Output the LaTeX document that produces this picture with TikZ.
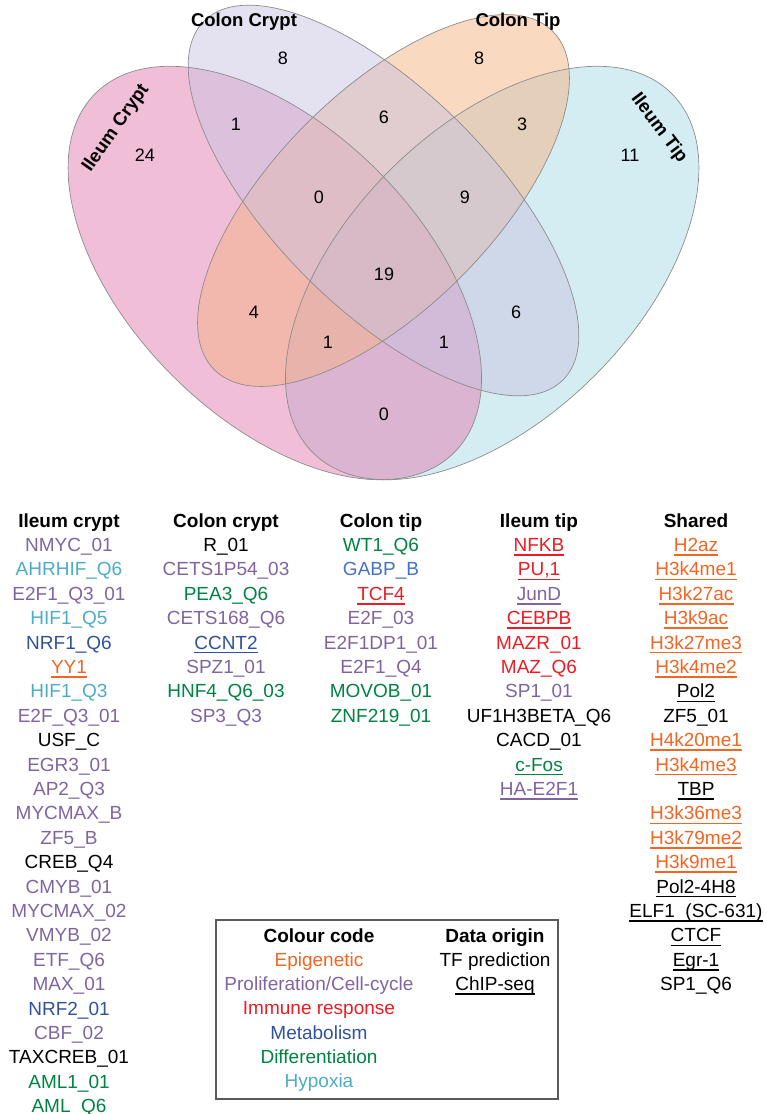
\documentclass[tikz,border=0pt]{standalone}
\usepackage{fontspec}
\setmainfont{Liberation Sans}
\definecolor{epicol}{RGB}{242,101,34}
\definecolor{procol}{RGB}{128,100,162}
\definecolor{immcol}{RGB}{237,28,36}
\definecolor{metcol}{RGB}{46,82,160}
\definecolor{metlcol}{RGB}{68,114,196}
\definecolor{difcol}{RGB}{0,130,65}
\definecolor{hypcol}{RGB}{75,172,198}
\definecolor{pinkset}{RGB}{227,125,177}
\definecolor{cyanset}{RGB}{169,219,229}
\definecolor{orangeset}{RGB}{245,179,131}
\definecolor{lavset}{RGB}{201,195,225}
\newsavebox\tfbox
\newcommand\tfu[1]{\sbox\tfbox{#1}\rlap{\rule[-4.3pt]{\wd\tfbox}{1.6pt}}\usebox\tfbox}
\begin{document}
\begin{tikzpicture}[x=1pt, y=-1pt,
  set/.style={fill opacity=0.5},
  rim/.style={draw=black!45, line width=0.7pt},
  num/.style={font=\fontsize{18}{20}\selectfont},
  setname/.style={font=\fontsize{18.5}{20}\selectfont\bfseries},
  tf/.style={anchor=base, inner sep=0pt, font=\fontsize{19}{23}\selectfont},
  head/.style={tf, font=\fontsize{19}{23}\selectfont\bfseries},
  blk/.style={tf}, epi/.style={tf, text=epicol}, pro/.style={tf, text=procol},
  imm/.style={tf, text=immcol}, met/.style={tf, text=metcol}, metl/.style={tf, text=metlcol},
  dif/.style={tf, text=difcol}, hyp/.style={tf, text=hypcol}]
  \useasboundingbox (0,0) rectangle (767,1114);
  \coordinate (ileumcrypt) at (274.8,273);
  \coordinate (ileumtip) at (492.2,273);
  \coordinate (colon) at (383.5,200.5);
  \fill[cyanset, set] (ileumtip) circle [x radius=253.8pt, y radius=145pt, rotate=45];
  \fill[pinkset, set] (ileumcrypt) circle [x radius=253.8pt, y radius=145pt, rotate=-45];
  \fill[orangeset, set] (colon) circle [x radius=239.3pt, y radius=108.8pt, rotate=45];
  \fill[lavset, set] (colon) circle [x radius=253.8pt, y radius=108.8pt, rotate=-45];
  \draw[rim] (ileumtip) circle [x radius=253.8pt, y radius=145pt, rotate=45];
  \draw[rim] (ileumcrypt) circle [x radius=253.8pt, y radius=145pt, rotate=-45];
  \draw[rim] (colon) circle [x radius=239.3pt, y radius=108.8pt, rotate=45];
  \draw[rim] (colon) circle [x radius=253.8pt, y radius=108.8pt, rotate=-45];
  \node[setname, rotate=55] (lic) at (116,128) {Ileum Crypt};
  \node[setname] (lcc) at (244,22) {Colon Crypt};
  \node[setname] (lct) at (518,22) {Colon Tip};
  \node[setname, rotate=-53] (lit) at (659,128) {Ileum Tip};
  \node[num] (n1) at (145,155) {24};
  \node[num] (n2) at (283,58) {8};
  \node[num] (n3) at (479,58) {8};
  \node[num] (n4) at (630,155) {11};
  \node[num] (n5) at (236,124) {1};
  \node[num] (n6) at (384,117) {6};
  \node[num] (n7) at (522,124) {3};
  \node[num] (n8) at (319,197) {0};
  \node[num] (n9) at (465,197) {9};
  \node[num] (n10) at (384,274) {19};
  \node[num] (n11) at (254,312) {4};
  \node[num] (n12) at (516,312) {6};
  \node[num] (n13) at (328,342) {1};
  \node[num] (n14) at (444,342) {1};
  \node[num] (n15) at (384,414) {0};
  \node[head] (ich) at (69,527) {Ileum crypt};
  \foreach \c/\t [count=\i] in {pro/NMYC\_01, hyp/AHRHIF\_Q6, pro/E2F1\_Q3\_01, hyp/HIF1\_Q5,
    met/NRF1\_Q6, epi/\tfu{YY1}, hyp/HIF1\_Q3, pro/E2F\_Q3\_01, blk/USF\_C, pro/EGR3\_01,
    pro/AP2\_Q3, pro/MYCMAX\_B, pro/ZF5\_B, blk/CREB\_Q4, pro/CMYB\_01, pro/MYCMAX\_02,
    pro/VMYB\_02, pro/ETF\_Q6, pro/MAX\_01, met/NRF2\_01, pro/CBF\_02, blk/TAXCREB\_01,
    dif/AML1\_01, dif/AML\_Q6}
    \node[\c] (ic\i) at (69,527+24.4*\i) {\t};
  \node[head] (cch) at (226,527) {Colon crypt};
  \foreach \c/\t [count=\i] in {blk/R\_01, pro/CETS1P54\_03, dif/PEA3\_Q6, pro/CETS168\_Q6,
    met/\tfu{CCNT2}, pro/SPZ1\_01, dif/HNF4\_Q6\_03, pro/SP3\_Q3}
    \node[\c] (cc\i) at (226,527+24.4*\i) {\t};
  \node[head] (cth) at (381,527) {Colon tip};
  \foreach \c/\t [count=\i] in {dif/WT1\_Q6, metl/GABP\_B, imm/\tfu{TCF4}, pro/E2F\_03,
    pro/E2F1DP1\_01, pro/E2F1\_Q4, dif/MOVOB\_01, dif/ZNF219\_01}
    \node[\c] (ct\i) at (381,527+24.4*\i) {\t};
  \node[head] (ith) at (539,527) {Ileum tip};
  \foreach \c/\t [count=\i] in {imm/\tfu{NFKB}, imm/\tfu{PU,1}, pro/\tfu{JunD}, imm/\tfu{CEBPB},
    imm/MAZR\_01, imm/MAZ\_Q6, pro/SP1\_01, blk/UF1H3BETA\_Q6, blk/CACD\_01,
    dif/\tfu{c-Fos}, pro/\tfu{HA-E2F1}}
    \node[\c] (it\i) at (539,527+24.4*\i) {\t};
  \node[head] (shh) at (696,527) {Shared};
  \foreach \c/\t [count=\i] in {epi/\tfu{H2az}, epi/\tfu{H3k4me1}, epi/\tfu{H3k27ac},
    epi/\tfu{H3k9ac}, epi/\tfu{H3k27me3}, epi/\tfu{H3k4me2}, blk/\tfu{Pol2}, blk/ZF5\_01,
    epi/\tfu{H4k20me1}, epi/\tfu{H3k4me3}, blk/\tfu{TBP}, epi/\tfu{H3k36me3},
    epi/\tfu{H3k79me2}, epi/\tfu{H3k9me1}, blk/\tfu{Pol2-4H8}, blk/\tfu{ELF1\ \ (SC-631)},
    blk/\tfu{CTCF}, blk/\tfu{Egr-1}, blk/SP1\_Q6}
    \node[\c] (sh\i) at (696,527+24.4*\i) {\t};
  \draw[draw=black!65, line width=1.4pt] (216,920) rectangle (558,1099);
  \node[head] (colh) at (319,942) {Colour code};
  \node[epi] (col1) at (319,966.3) {Epigenetic};
  \node[pro] (col2) at (319,990.6) {Proliferation/Cell-cycle};
  \node[imm] (col3) at (319,1014.9) {Immune response};
  \node[met] (col4) at (319,1039.2) {Metabolism};
  \node[dif] (col5) at (319,1063.5) {Differentiation};
  \node[hyp] (col6) at (319,1087.8) {Hypoxia};
  \node[head] (orih) at (495,942) {Data origin};
  \node[blk] (ori1) at (495,966.3) {TF prediction};
  \node[blk] (ori2) at (495,990.6) {\tfu{ChIP-seq}};
\end{tikzpicture}
\end{document}
